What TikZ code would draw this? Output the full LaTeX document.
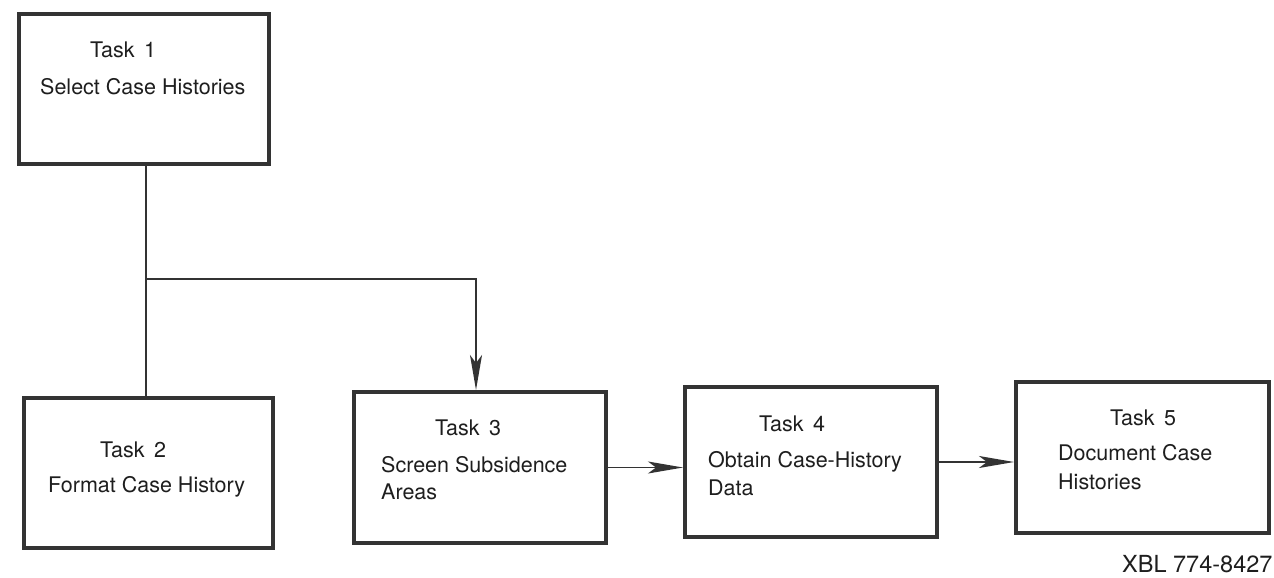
\documentclass[tikz,border=0pt]{standalone}
\usepackage{fontspec}
\setmainfont{TeX Gyre Heros}
\usetikzlibrary{arrows.meta}
\definecolor{ink}{HTML}{333333}
\definecolor{txt}{HTML}{1E1E1E}
\tikzset{
  x=1pt, y=-1pt,
  taskbox/.style={draw=ink, line width=4pt, anchor=north west, inner sep=0pt, fill=white},
  label/.style={anchor=base west, inner sep=0pt, text=txt, font=\fontsize{21.5}{26}\selectfont},
  link/.style={draw=ink, line width=1.5pt},
  flow/.style={link, -{Stealth[length=35pt, width=12pt, inset=8pt]}},
}
\begin{document}
\begin{tikzpicture}
\useasboundingbox[fill=white] (0,0) rectangle (1274,578);

% task boxes
\node[taskbox, minimum width=250pt, minimum height=150pt] (t1) at (17,12) {};
\node[taskbox, minimum width=249pt, minimum height=150pt] (t2) at (22,396) {};
\node[taskbox, minimum width=252pt, minimum height=151pt] (t3) at (352,390) {};
\node[taskbox, minimum width=252pt, minimum height=150pt] (t4) at (683,385) {};
\node[taskbox, minimum width=253pt, minimum height=151pt] (t5) at (1014,380) {};

% box texts
\node[label] (t1a) at (90,58) {Task\, 1};
\node[label] (t1b) at (40,95) {Select Case Histories};
\node[label] (t2a) at (100,457) {Task\, 2};
\node[label] (t2b) at (48,492) {Format Case History};
\node[label] (t3a) at (435,435) {Task\, 3};
\node[label] (t3b) at (381,472) {Screen Subsidence};
\node[label] (t3c) at (381,499) {Areas};
\node[label] (t4a) at (759,431) {Task\, 4};
\node[label] (t4b) at (708,467) {Obtain Case-History};
\node[label] (t4c) at (708,495) {Data};
\node[label] (t5a) at (1110,425) {Task\, 5};
\node[label] (t5b) at (1058,460) {Document Case};
\node[label] (t5c) at (1058,489) {Histories};

% drawing number
\node[label, font=\fontsize{23.5}{28}\selectfont] (ref) at (1122,572) {XBL 774-8427};

% connectors
\coordinate (j) at (146,279);
\coordinate (k) at (476,279);
\draw[link] (j |- t1.south) -- (j |- t2.north);
\draw[flow] (j) -- (k) -- (k |- t3.north);
\draw[flow] (t3.east) -- (t3.east -| t4.west);
\draw[flow] (t4.east) -- (t4.east -| t5.west);
\end{tikzpicture}
\end{document}
